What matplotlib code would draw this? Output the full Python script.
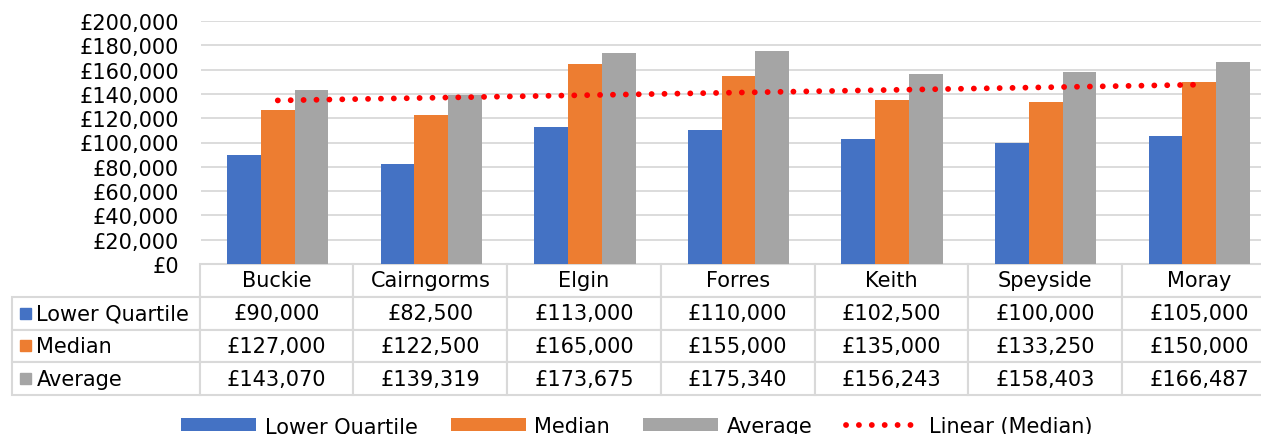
import numpy as np
import matplotlib
matplotlib.use('Agg')
import matplotlib.pyplot as plt
from matplotlib.patches import Rectangle

# データ
areas = ['Buckie', 'Cairngorms', 'Elgin', 'Forres', 'Keith', 'Speyside', 'Moray']
lower_quartile = [90000, 82500, 113000, 110000, 102500, 100000, 105000]
median = [127000, 122500, 165000, 155000, 135000, 133250, 150000]
average = [143070, 139319, 173675, 175340, 156243, 158403, 166487]
series_names = ['Lower Quartile', 'Median', 'Average']
colors = ['#4472C4', '#ED7D31', '#A5A5A5']
y_ticks = list(range(0, 200001, 20000))

plt.rcParams['font.family'] = 'DejaVu Sans'
plt.rcParams['font.size'] = 15

W, H = 1261, 435
fig = plt.figure(figsize=(W / 100, H / 100), dpi=100)
# 軸の位置（右端は画像の外まで伸びる）
ax = fig.add_axes([201 / W, (H - 265) / H, 1075 / W, 243 / H])

x = np.arange(len(areas))
bw = 0.22
series = [lower_quartile, median, average]
bars = []
for i, (vals, c) in enumerate(zip(series, colors)):
    b = ax.bar(x + (i - 1) * bw, vals, bw, color=c, zorder=2, label=series_names[i])
    bars.append(b)

# 線形近似（中央値）
coef = np.polyfit(x + 1, median, 1)
trend = np.polyval(coef, x + 1)
trend_line, = ax.plot(x, trend, color='#FF0000', lw=4.2, linestyle=(0, (0.01, 2.2)),
                      dash_capstyle='round', zorder=3)

ax.set_xlim(-0.5, 6.5)
ax.set_ylim(0, 200000)
ax.set_yticks(y_ticks)
ax.set_yticklabels(['£{:,}'.format(v) for v in y_ticks])
ax.tick_params(axis='y', length=0, pad=16)
ax.set_xticks([])
ax.grid(axis='y', color='#d9d9d9', lw=1.3, zorder=0)
for s in ax.spines.values():
    s.set_visible(False)

# データテーブル
cell_text = [[''] + areas]
for name, vals in zip(series_names, series):
    cell_text.append([name] + ['£{:,}'.format(v) for v in vals])
col_w = [188] + [154] * len(areas)
tbl = ax.table(cellText=cell_text, colWidths=[w / sum(col_w) for w in col_w],
               cellLoc='center', bbox=[-189 / 1075, -131 / 243, 1264 / 1075, 131 / 243])
tbl.auto_set_font_size(False)
tbl.set_fontsize(15)
for (r, c), cell in tbl.get_celld().items():
    cell.set_edgecolor('#d9d9d9')
    cell.set_linewidth(1.5)
    if r == 0 and c == 0:
        cell.visible_edges = ''
    if c == 0 and r > 0:
        cell.get_text().set_horizontalalignment('left')
        cell.PAD = 0.13

# 凡例キーの四角
row_h = 131 / 4
for i, c in enumerate(colors):
    yc = 265 + row_h * (i + 1.5)
    ax.add_patch(Rectangle(((20 - 201) / 1075, (265 - yc - 5.5) / 243), 11 / 1075, 11 / 243,
                           transform=ax.transAxes, color=c, clip_on=False))

fig.legend(bars + [trend_line], series_names + ['Linear (Median)'], loc='center',
           bbox_to_anchor=(0.505, 0.018), ncol=4, frameon=False, handlelength=3.6,
           handleheight=0.6, columnspacing=1.6, handletextpad=0.4)

fig.savefig('out.png', dpi=100)
